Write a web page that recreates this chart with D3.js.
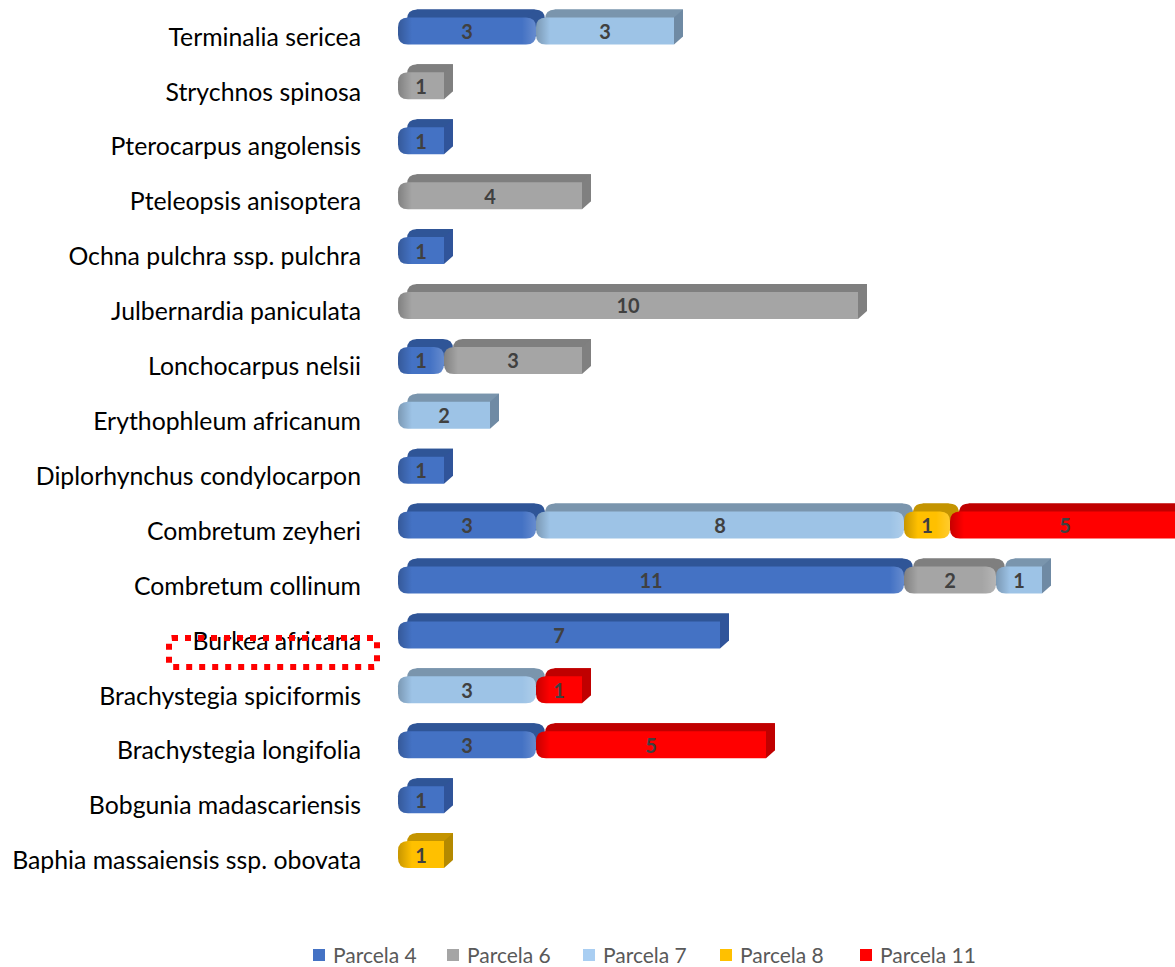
<!DOCTYPE html>
<html>
<head>
<meta charset="utf-8">
<script src="https://cdn.jsdelivr.net/npm/d3@7"></script>
<style>
  body { margin: 0; background: #fff; }
  svg { display: block; font-family: Lato, "Noto Sans", sans-serif; }
</style>
</head>
<body>
<div class="graphic"></div>
<script>
// species, top to bottom as in the chart
var categories = [
  "Terminalia sericea", "Strychnos spinosa", "Pterocarpus angolensis",
  "Pteleopsis anisoptera", "Ochna pulchra ssp. pulchra", "Julbernardia paniculata",
  "Lonchocarpus nelsii", "Erythophleum africanum", "Diplorhynchus condylocarpon",
  "Combretum zeyheri", "Combretum collinum", "Burkea africana",
  "Brachystegia spiciformis", "Brachystegia longifolia", "Bobgunia madascariensis",
  "Baphia massaiensis ssp. obovata"
];
var seriesNames = ["Parcela 4", "Parcela 6", "Parcela 7", "Parcela 8", "Parcela 11"];
var parcela4  = [3, 0, 1, 0, 1, 0, 1, 0, 1, 3, 11, 7, 0, 3, 1, 0];
var parcela6  = [0, 1, 0, 4, 0, 10, 3, 0, 0, 0, 2, 0, 0, 0, 0, 0];
var parcela7  = [3, 0, 0, 0, 0, 0, 0, 2, 0, 8, 1, 0, 3, 0, 0, 0];
var parcela8  = [0, 0, 0, 0, 0, 0, 0, 0, 0, 1, 0, 0, 0, 0, 0, 1];
var parcela11 = [0, 0, 0, 0, 0, 0, 0, 0, 0, 5, 0, 0, 1, 5, 0, 0];
var highlighted = "Burkea africana";

var colors = {
  "Parcela 4":  {front: "#4472c4", top: "#2f5597", side: "#30549a", legend: "#4472c4"},
  "Parcela 6":  {front: "#a5a5a5", top: "#7f7f7f", side: "#808080", legend: "#a5a5a5"},
  "Parcela 7":  {front: "#9dc3e6", top: "#7a95ad", side: "#6f8aa4", legend: "#a9cef2"},
  "Parcela 8":  {front: "#ffc000", top: "#c49400", side: "#b48900", legend: "#ffc000"},
  "Parcela 11": {front: "#ff0000", top: "#c00000", side: "#c00000", legend: "#ff0000"}
};

var width = 1175, height = 967;
var dx = 9, dy = 8, barH = 27, r = 10;

var svg = d3.select(".graphic").append("svg")
    .attr("width", width)
    .attr("height", height);

// build the table d3.stack wants
var table = categories.map(function(c, i) {
  return {cat: c, "Parcela 4": parcela4[i], "Parcela 6": parcela6[i],
          "Parcela 7": parcela7[i], "Parcela 8": parcela8[i], "Parcela 11": parcela11[i]};
});
var stacked = d3.stack().keys(seriesNames)(table);

var x = d3.scaleLinear().domain([0, 10]).range([398, 858]);
var y = d3.scaleBand().domain(categories).range([3.5, 882]).padding(0);

// which series is the last non-zero one in each row
var lastKey = table.map(function(d) {
  var k = null;
  seriesNames.forEach(function(s) { if (d[s] > 0) k = s; });
  return k;
});

// rounded rect path, left / right corners rounded separately
function rrect(x0, y0, w, h, rl, rr) {
  return "M" + (x0 + rl) + "," + y0 +
    "H" + (x0 + w - rr) +
    (rr ? "Q" + (x0 + w) + "," + y0 + " " + (x0 + w) + "," + (y0 + rr) : "") +
    "V" + (y0 + h - rr) +
    (rr ? "Q" + (x0 + w) + "," + (y0 + h) + " " + (x0 + w - rr) + "," + (y0 + h) : "") +
    "H" + (x0 + rl) +
    (rl ? "Q" + x0 + "," + (y0 + h) + " " + x0 + "," + (y0 + h - rl) : "") +
    "V" + (y0 + rl) +
    (rl ? "Q" + x0 + "," + y0 + " " + (x0 + rl) + "," + y0 : "") + "Z";
}

var defs = svg.append("defs");
var bars = svg.append("g");
var gid = 0;

stacked.forEach(function(layer) {
  var s = layer.key;
  var c = colors[s];
  layer.forEach(function(d, i) {
    var v = d[1] - d[0];
    if (!v) return;
    var x0 = x(d[0]), x1 = x(d[1]);
    var yc = y(categories[i]) + y.bandwidth() / 2;
    var y0 = yc - barH / 2;
    var w = x1 - x0;
    var isLast = lastKey[i] === s;
    var rl = Math.min(r, w / 2);
    var rr = isLast ? 0 : Math.min(r, w / 2);
    var g = bars.append("g");

    // shading on the bevelled ends
    var id = "sh" + (gid++);
    var grad = defs.append("linearGradient").attr("id", id)
        .attr("gradientUnits", "userSpaceOnUse")
        .attr("x1", x0).attr("x2", x1).attr("y1", 0).attr("y2", 0);
    var f = Math.min(0.45, 14 / w);
    grad.append("stop").attr("offset", 0).attr("stop-color", "#000").attr("stop-opacity", 0.22);
    grad.append("stop").attr("offset", f).attr("stop-color", "#000").attr("stop-opacity", 0);
    grad.append("stop").attr("offset", isLast ? 1 : 1 - f).attr("stop-color", "#fff").attr("stop-opacity", 0);
    grad.append("stop").attr("offset", 1).attr("stop-color", "#fff").attr("stop-opacity", isLast ? 0 : 0.18);

    // back face (the rounded top edge)
    g.append("path")
      .attr("d", rrect(x0 + dx, y0 - dy, w, barH, rl, rr))
      .attr("fill", c.top);
    // top face
    g.append("path")
      .attr("d", "M" + (x0 + rl) + "," + y0 + "L" + (x0 + rl + dx) + "," + (y0 - dy) +
                 "L" + (x1 - rr + dx) + "," + (y0 - dy) + "L" + (x1 - rr) + "," + y0 + "Z")
      .attr("fill", c.top);
    if (isLast) {
      g.append("path")
        .attr("d", "M" + x1 + "," + y0 + "L" + (x1 + dx) + "," + (y0 - dy) +
                   "L" + (x1 + dx) + "," + (y0 + barH - dy) + "L" + x1 + "," + (y0 + barH) + "Z")
        .attr("fill", c.side);
    }
    // front face
    g.append("path")
      .attr("d", rrect(x0, y0, w, barH, rl, rr))
      .attr("fill", c.front);
    g.append("path")
      .attr("d", rrect(x0, y0, w, barH, rl, rr))
      .attr("fill", "url(#" + id + ")");

    g.append("text")
      .attr("x", (x0 + x1) / 2)
      .attr("y", yc + 1)
      .attr("dy", "0.35em")
      .attr("text-anchor", "middle")
      .attr("font-size", 20)
      .attr("font-weight", "bold")
      .attr("fill", "#404040")
      .text(v);
  });
});

// category labels
svg.append("g").selectAll("text")
  .data(categories)
  .enter().append("text")
    .attr("x", 361)
    .attr("y", function(d) { return y(d) + y.bandwidth() / 2 + 6; })
    .attr("dy", "0.35em")
    .attr("text-anchor", "end")
    .attr("font-size", 24.8)
    .attr("fill", "#000")
    .text(function(d) { return d; });

// red dotted box round the highlighted label
svg.append("rect")
  .attr("x", 169)
  .attr("y", y(highlighted) + y.bandwidth() / 2 + 3)
  .attr("width", 208)
  .attr("height", 29)
  .attr("rx", 3)
  .attr("fill", "none")
  .attr("stroke", "#ff0000")
  .attr("stroke-width", 6)
  .attr("stroke-dasharray", "6,7");

// legend
var legendX = [313, 447, 583, 720, 860];
var legend = svg.append("g").selectAll("g")
  .data(seriesNames)
  .enter().append("g")
    .attr("transform", function(d, i) { return "translate(" + legendX[i] + ",955)"; });
legend.append("rect")
  .attr("x", 0).attr("y", -6)
  .attr("width", 12).attr("height", 12)
  .attr("fill", function(d) { return colors[d].legend; });
legend.append("text")
  .attr("x", 20)
  .attr("y", 1)
  .attr("dy", "0.35em")
  .attr("font-size", 21)
  .attr("fill", "#595959")
  .text(function(d) { return d; });
</script>
</body>
</html>
